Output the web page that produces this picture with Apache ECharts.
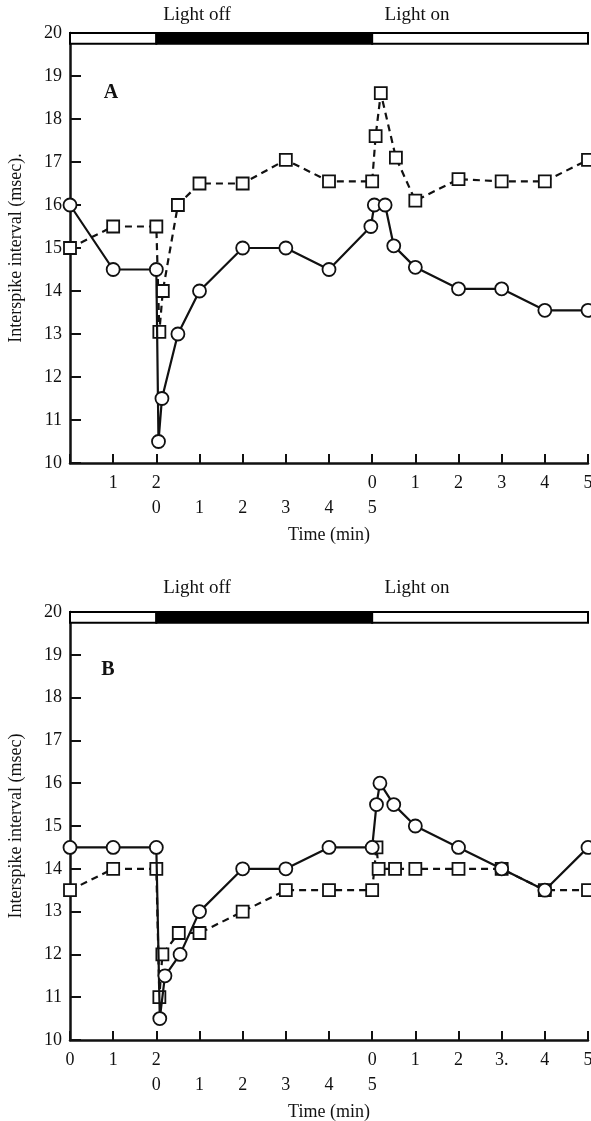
<!DOCTYPE html>
<html><head><meta charset="utf-8">
<script src="https://cdn.jsdelivr.net/npm/echarts@6/dist/echarts.min.js"></script>
<style>html,body{margin:0;padding:0;background:#fff;overflow:hidden}#c{width:591px;height:1121px}</style>
</head><body><div id="c"></div>
<script>
// ---- data ----
const rowLabelsA1 = ['', '1', '2', '', '', '', '', '0', '1', '2', '3', '4', '5'];
const rowLabelsA2 = ['', '', '0', '1', '2', '3', '4', '5', '', '', '', '', ''];
const rowLabelsB1 = ['0', '1', '2', '', '', '', '', '0', '1', '2', '3.', '4', '5'];
const rowLabelsB2 = ['', '', '0', '1', '2', '3', '4', '5', '', '', '', '', ''];
const lightPeriods = [[0, 2, 'on'], [2, 7, 'off'], [7, 12, 'on']];
const aCircles = [[0,16],[1,14.5],[2,14.5],[2.05,10.5],[2.13,11.5],[2.5,13],[3,14],[4,15],[5,15],[6,14.5],[6.97,15.5],[7.05,16],[7.3,16],[7.5,15.05],[8,14.55],[9,14.05],[10,14.05],[11,13.55],[12,13.55]];
const aSquares = [[0,15],[1,15.5],[2,15.5],[2.07,13.05],[2.15,14],[2.5,16],[3,16.5],[4,16.5],[5,17.05],[6,16.55],[7,16.55],[7.08,17.6],[7.2,18.6],[7.55,17.1],[8,16.1],[9,16.6],[10,16.55],[11,16.55],[12,17.05]];
const bCircles = [[0,14.5],[1,14.5],[2,14.5],[2.08,10.5],[2.2,11.5],[2.55,12],[3,13],[4,14],[5,14],[6,14.5],[7,14.5],[7.1,15.5],[7.18,16],[7.5,15.5],[8,15],[9,14.5],[10,14],[11,13.5],[12,14.5]];
const bSquares = [[0,13.5],[1,14],[2,14],[2.07,11],[2.14,12],[2.52,12.5],[3,12.5],[4,13],[5,13.5],[6,13.5],[7,13.5],[7.1,14.5],[7.15,14],[7.53,14],[8,14],[9,14],[10,14],[11,13.5],[12,13.5]];
const yTitleA = 'Interspike interval (msec).';
const yTitleB = 'Interspike interval (msec)';
const xTitle = 'Time (min)';

// ---- chart ----
const FONT = 'Liberation Serif';
const INK = '#111';
const chart = echarts.init(document.getElementById('c'), null, {renderer: 'canvas', width: 591, height: 1121});

function lightAreas() {
  return lightPeriods.map(p => [
    {xAxis: p[0], yAxis: 19.75, itemStyle: {color: p[2] === 'on' ? '#fff' : '#000', borderColor: '#000', borderWidth: 2}},
    {xAxis: p[1], yAxis: 20}
  ]);
}
function xAxes(g, labels1, labels2) {
  return [
    {gridIndex: g, type: 'value', min: 0, max: 12, interval: 1,
     axisLine: {lineStyle: {color: INK, width: 2.5}},
     axisTick: {inside: true, length: 9, lineStyle: {color: INK, width: 2}},
     splitLine: {show: false},
     axisLabel: {formatter: v => labels1[Math.round(v)], margin: 11, color: INK, fontFamily: FONT, fontSize: 18, showMinLabel: true, showMaxLabel: true}},
    {gridIndex: g, type: 'value', min: 0, max: 12, interval: 1, position: 'bottom', offset: 25,
     axisLine: {show: false}, axisTick: {show: false}, splitLine: {show: false},
     axisLabel: {formatter: v => labels2[Math.round(v)], margin: 11, color: INK, fontFamily: FONT, fontSize: 18},
     name: xTitle, nameLocation: 'middle', nameGap: 38,
     nameTextStyle: {color: INK, fontFamily: FONT, fontSize: 18}}
  ];
}
function yAxis(g, title) {
  return {gridIndex: g, type: 'value', min: 10, max: 20, interval: 1,
    axisLine: {lineStyle: {color: INK, width: 2.5}},
    axisTick: {inside: true, length: 11, lineStyle: {color: INK, width: 2}},
    splitLine: {show: false},
    axisLabel: {margin: 8, color: INK, fontFamily: FONT, fontSize: 18},
    name: title, nameLocation: 'middle', nameRotate: 90, nameGap: 45,
    nameTextStyle: {color: INK, fontFamily: FONT, fontSize: 18}};
}
function circleSeries(xi, yi, data, withBar) {
  const s = {type: 'line', xAxisIndex: xi, yAxisIndex: yi, data: data,
    symbol: 'circle', symbolSize: 13, showAllSymbol: true,
    itemStyle: {color: '#fff', borderColor: INK, borderWidth: 1.8},
    lineStyle: {color: INK, width: 2.2}, z: 3};
  if (withBar) s.markArea = {silent: true, data: lightAreas()};
  return s;
}
function squareSeries(xi, yi, data) {
  return {type: 'line', xAxisIndex: xi, yAxisIndex: yi, data: data,
    symbol: 'rect', symbolSize: 12, showAllSymbol: true,
    itemStyle: {color: '#fff', borderColor: INK, borderWidth: 1.8},
    lineStyle: {color: INK, width: 2.2, type: [7, 5]}, z: 2};
}
function txt(x, y, s, size, weight) {
  return {type: 'text', x: x, y: y, style: {text: s, fill: INK, font: (weight || 'normal') + ' ' + size + 'px "' + FONT + '"', textAlign: 'center', textVerticalAlign: 'middle'}};
}

chart.setOption({
  animation: false,
  backgroundColor: '#fff',
  grid: [
    {left: 70, top: 33, right: 3, height: 430, containLabel: false, outerBoundsMode: 'none'},
    {left: 70, top: 612, right: 3, height: 428, containLabel: false, outerBoundsMode: 'none'}
  ],
  xAxis: [].concat(xAxes(0, rowLabelsA1, rowLabelsA2), xAxes(1, rowLabelsB1, rowLabelsB2)),
  yAxis: [yAxis(0, yTitleA), yAxis(1, yTitleB)],
  series: [
    squareSeries(0, 0, aSquares),
    circleSeries(0, 0, aCircles, true),
    squareSeries(2, 1, bSquares),
    circleSeries(2, 1, bCircles, true)
  ],
  graphic: [
    txt(197, 15, 'Light off', 19), txt(417, 15, 'Light on', 19),
    txt(197, 588, 'Light off', 19), txt(417, 588, 'Light on', 19),
    txt(111, 93, 'A', 20, 'bold'), txt(108, 670, 'B', 20, 'bold')
  ]
});
</script></body></html>
